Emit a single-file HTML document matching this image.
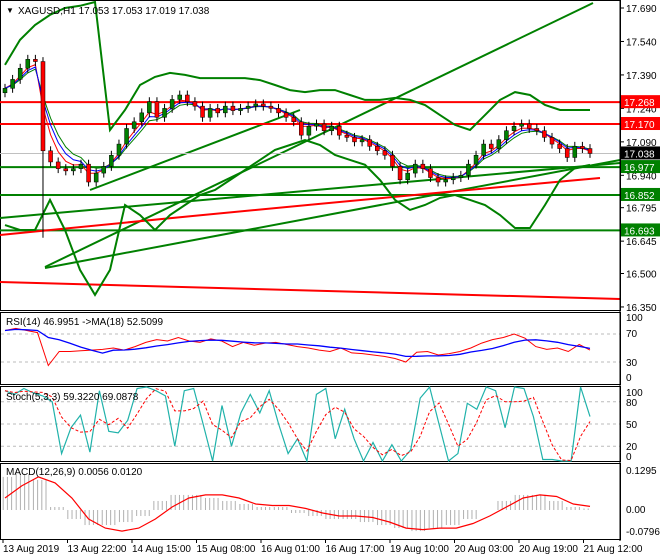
<!DOCTYPE html>
<html><head><meta charset="utf-8"><style>
html,body{margin:0;padding:0;background:#fff;}
svg{display:block;font-family:"Liberation Sans",sans-serif;font-size:10px;}
</style></head><body>
<svg id="c" width="660" height="560"></svg>
<script>
const closes=[17.33,17.37,17.42,17.46,17.45,17.05,17.00,16.97,16.96,16.97,16.99,16.91,16.95,16.98,17.03,17.08,17.15,17.18,17.22,17.27,17.20,17.24,17.28,17.30,17.27,17.25,17.20,17.24,17.22,17.25,17.23,17.24,17.25,17.26,17.25,17.24,17.22,17.20,17.18,17.12,17.16,17.17,17.14,17.16,17.12,17.11,17.09,17.10,17.07,17.05,17.03,16.98,16.92,16.95,16.99,16.97,16.93,16.91,16.92,16.93,16.94,16.99,17.03,17.08,17.06,17.10,17.14,17.16,17.17,17.15,17.14,17.11,17.08,17.06,17.02,17.07,17.06,17.038];
const bbUpper=[17.435,17.547,17.614,17.659,17.690,17.700,17.717,17.143,17.233,17.345,17.381,17.399,17.390,17.376,17.376,17.376,17.376,17.367,17.345,17.322,17.313,17.322,17.322,17.300,17.278,17.278,17.287,17.278,17.255,17.210,17.166,17.143,17.210,17.278,17.313,17.300,17.255,17.233,17.233,17.233];
const bbLower=[16.717,16.695,16.695,16.830,16.695,16.516,16.404,16.516,16.807,16.762,16.695,16.762,16.807,16.852,16.874,16.919,16.964,17.009,17.054,17.076,17.098,17.076,17.031,17.009,16.987,16.919,16.830,16.785,16.807,16.839,16.852,16.830,16.807,16.762,16.704,16.704,16.807,16.919,16.973,16.987];
const rsi=[75,78,75,72,25,45,45,46,47,48,50,47,52,58,62,60,65,60,58,63,60,52,58,54,57,58,55,52,50,47,45,50,43,42,40,38,35,30,44,45,40,42,45,50,57,62,65,70,64,52,48,50,45,55,47];
const stoch=[95,90,98,92,88,80,10,45,62,12,95,40,38,55,98,100,95,88,20,95,98,50,0,75,20,65,90,65,95,50,10,30,0,90,98,30,70,30,0,25,0,22,0,15,85,100,50,0,10,78,70,100,95,45,100,98,60,2,2,0,0,100,60];
const macdSig=[0.04,0.08,0.11,0.09,0.04,-0.03,-0.06,-0.07,-0.06,-0.03,0.01,0.04,0.05,0.05,0.04,0.02,0.015,0.015,0.005,-0.01,-0.02,-0.02,-0.025,-0.04,-0.06,-0.065,-0.06,-0.06,-0.045,-0.02,0.01,0.04,0.05,0.045,0.02,0.012];
const macdHist=[0.11,0.12,0.10,0.01,-0.03,-0.05,-0.05,-0.04,-0.02,0.03,0.05,0.05,0.04,0.03,0.02,0.01,0.01,-0.01,-0.02,-0.03,-0.03,-0.04,-0.05,-0.06,-0.07,-0.06,-0.05,-0.03,0.0,0.03,0.05,0.05,0.03,0.01,0.005];
const priceTicks=[17.690,17.540,17.390,17.240,17.090,16.940,16.795,16.645,16.500,16.350];
const dateLabels=["13 Aug 2019","13 Aug 22:00","14 Aug 15:00","15 Aug 08:00","16 Aug 01:00","16 Aug 17:00","19 Aug 10:00","20 Aug 03:00","20 Aug 19:00","21 Aug 12:00"];
const levels=[[17.268,"red"],[17.170,"red"],[16.977,"green"],[16.852,"green"],[16.693,"green"]];

const S=document.getElementById('c'),NS="http://www.w3.org/2000/svg";
function el(t,a,p){const e=document.createElementNS(NS,t);for(const k in a)e.setAttribute(k,a[k]);(p||S).appendChild(e);return e;}
const X0=5,X1=590,AX=620;
const py=p=>8+(17.690-p)*223.1;
const ry=v=>383-0.7*v, sy=v=>461-0.74*v, my=v=>510-301*v;
const xs=(i,n)=>X0+i*(X1-X0)/(n-1);
function poly(vals,yf,col,w,dash,name){let d=vals.map((v,i)=>(i?'L':'M')+xs(i,vals.length).toFixed(1)+' '+yf(v).toFixed(1)).join('');
const e=el('path',{d:d,fill:'none',stroke:col,'stroke-width':w||1});if(dash)e.setAttribute('stroke-dasharray',dash);

return e;}
function txt(x,y,s,a,p){const t=el('text',Object.assign({x:x,y:y},a||{}),p);t.textContent=s;return t;}

const frames=[[0,0,310],[0,312,384],[0,386,461],[0,463,539]];
frames.forEach(f=>el('rect',{x:0.5,y:f[1]+0.5,width:AX,height:f[2]-f[1],fill:'none',stroke:'#000'}));

[ry(70),ry(30),sy(80),sy(50),sy(20)].forEach(g=>el('line',{x1:1,x2:AX,y1:g,y2:g,stroke:'#bbb','stroke-dasharray':'3,3'}));

const tl=[[45,267,593,3,'green',2],[0,218,620,163,'green',2],[45,268,620,160,'green',2],[90,190,300,110,'green',2],[0,282,620,299,'red',2]];
tl.forEach(t=>{const l=el('line',{x1:t[0],y1:t[1],x2:t[2],y2:t[3],stroke:t[4],'stroke-width':t[5]});
});
levels.forEach(l=>{const e=el('line',{x1:0,x2:AX,y1:py(l[0]),y2:py(l[0]),stroke:l[1],'stroke-width':2});
});
el('path',{d:'M0 235 Q300 205 600 178',fill:'none',stroke:'red','stroke-width':2});
el('line',{x1:0,x2:AX,y1:py(17.038),y2:py(17.038),stroke:'#c0c0c0'});

poly(bbUpper,py,'green',2,null,'bollinger-upper');poly(bbLower,py,'green',2,null,'bollinger-lower');
const n=closes.length;
function ema(a,k){const r=[];let e=a[0];a.forEach(v=>{e=e+(v-e)*2/(k+1);r.push(e);});return r;}
poly(ema(closes,5),py,'green',1,null,'ma-green');poly(ema(closes,3),py,'red',1,null,'ma-red');poly(ema(closes,4),py,'blue',1,null,'ma-blue');

closes.forEach((c,i)=>{const o=i?closes[i-1]:c-0.02;const x=xs(i,n);const hi=Math.max(o,c)+0.02,lo=Math.min(o,c)-0.02-(i==5?0.37:0);
const g=el('g',{});
el('line',{x1:x,x2:x,y1:py(hi),y2:py(lo),stroke:'#000'},g);
const bull=c>=o;el('rect',{x:x-2,y:py(Math.max(o,c)),width:4,height:Math.max(1,Math.abs(py(o)-py(c))),fill:bull?'#008000':'red',stroke:'#000','stroke-width':0.5},g);});

el('line',{x1:AX,x2:AX,y1:0,y2:541,stroke:'#000'});
priceTicks.forEach(p=>{el('line',{x1:AX,x2:AX+4,y1:py(p),y2:py(p),stroke:'#000'});txt(AX+6,py(p)+4,p.toFixed(3));});
function tag(p,col,name){const y=py(p);const g=el('g',{});
el('rect',{x:AX+1,y:y-7,width:39,height:13,fill:col},g);txt(AX+4,y+4,p.toFixed(3),{fill:'#fff'},g);}
levels.forEach(l=>tag(l[0],l[1]=='red'?'#ff0000':'#008000','level-tag'));tag(17.038,'#000','current-price-tag');

poly(rsi,ry,'red',1,null,'rsi-line');
const rma=rsi.map((v,i)=>{const s=rsi.slice(Math.max(0,i-5),i+1);return s.reduce((a,b)=>a+b)/s.length;});
poly(rma,ry,'blue',1.3,null,'rsi-ma-line');
[[100,321],[70,337],[30,366],[0,381]].forEach(t=>txt(AX+6,t[1],t[0]));
poly(stoch,sy,'#20b2aa',1.2,null,'stoch-main');
const ssig=stoch.map((v,i)=>{const s=stoch.slice(Math.max(0,i-2),i+1);return s.reduce((a,b)=>a+b)/s.length;});
poly(ssig,sy,'red',1,'3,2','stoch-signal');
[[100,396],[80,406],[50,428],[20,450],[0,460]].forEach(t=>txt(AX+6,t[1],t[0]));
macdHist.forEach((v,i)=>{for(let j=0;j<4;j++){const x=xs(i,macdHist.length)+j*4.2-6;if(x<2||x>592)continue;
const b=el('line',{x1:x,x2:x,y1:my(0),y2:my(v),stroke:'#b0b0b0'});}});
poly(macdSig,my,'red',1.2,null,'macd-signal');
txt(AX+6,474,'0.1295');txt(AX+6,513,'0.00');txt(AX+6,535,'-0.0796');

dateLabels.forEach((d,i)=>{const x=3+i*64.5;el('line',{x1:x,x2:x,y1:539,y2:543,stroke:'#000'});txt(x,552,d);});

txt(6,13,'▼',{'font-size':'8px'});
txt(18,14,'XAGUSD,H1  17.053 17.053 17.019 17.038');
txt(6,325,'RSI(14) 46.9951  ->MA(18) 52.5099');
txt(6,400,'Stoch(5,3,3) 59.3220 69.0878');
txt(6,475,'MACD(12,26,9) 0.0056 0.0120');
</script>
</body></html>
